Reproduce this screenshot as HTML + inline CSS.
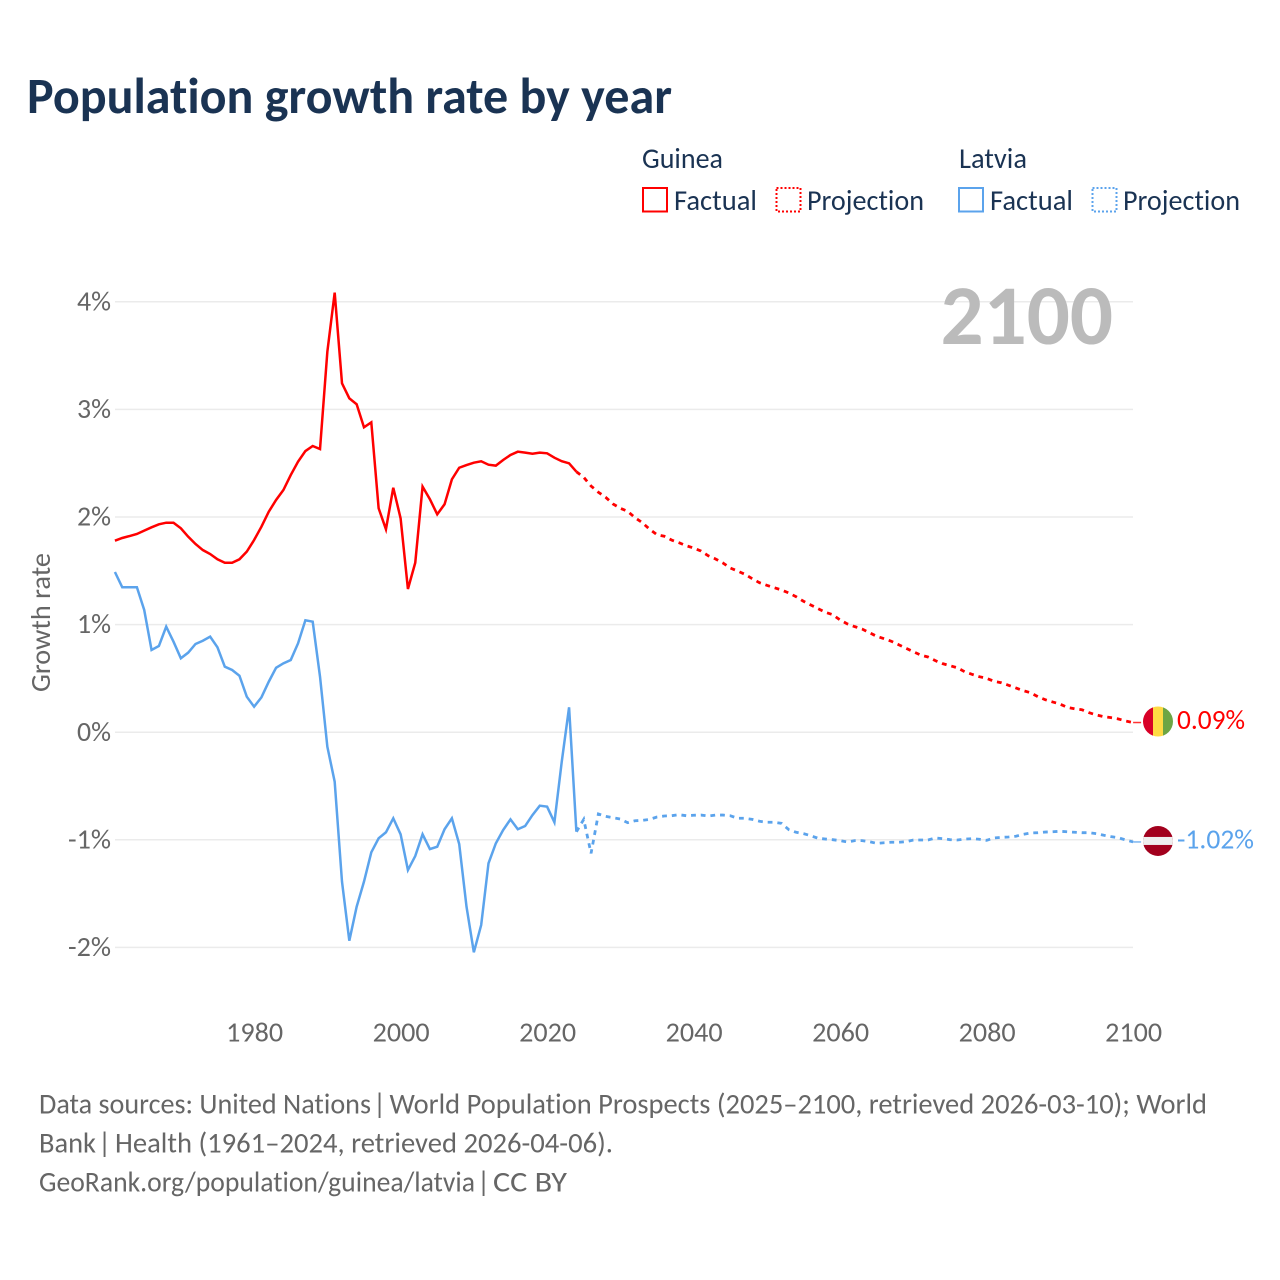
<!DOCTYPE html>
<html lang="en">
<head>
<meta charset="utf-8">
<title>Population growth rate by year</title>
<style>
html,body{margin:0;padding:0;background:#fff;}
svg{display:block;font-family:"Carlito","Lato","Liberation Sans",sans-serif;font-variant-ligatures:none;}
</style>
</head>
<body>
<svg id="chart" xmlns="http://www.w3.org/2000/svg" width="1280" height="1280" viewBox="0 0 1280 1280">
  <defs>
    <clipPath id="clip-guinea"><circle id="clip-guinea-c" cx="1158" cy="721" r="15"/></clipPath>
    <clipPath id="clip-latvia"><circle id="clip-latvia-c" cx="1158" cy="841" r="15"/></clipPath>
  </defs>
  <text x="27" y="113" font-size="51" font-weight="700" fill="#1a3353" textLength="645" lengthAdjust="spacingAndGlyphs">Population growth rate by year</text>

  <g font-size="28.5" fill="#1a3353">
    <text x="642" y="168" textLength="81" lengthAdjust="spacingAndGlyphs">Guinea</text>
    <rect x="643" y="188" width="24" height="23.5" fill="none" stroke="#ff0000" stroke-width="2"/>
    <text x="674" y="210" textLength="83" lengthAdjust="spacingAndGlyphs">Factual</text>
    <rect x="776.5" y="188" width="24" height="23.5" fill="none" stroke="#ff0000" stroke-width="2" stroke-dasharray="2 2"/>
    <text x="807" y="210" textLength="117" lengthAdjust="spacingAndGlyphs">Projection</text>
    <text x="959" y="168" textLength="68" lengthAdjust="spacingAndGlyphs">Latvia</text>
    <rect x="959" y="188" width="24" height="23.5" fill="none" stroke="#5ba3ec" stroke-width="2"/>
    <text x="990" y="210" textLength="83" lengthAdjust="spacingAndGlyphs">Factual</text>
    <rect x="1092.5" y="188" width="24" height="23.5" fill="none" stroke="#5ba3ec" stroke-width="2" stroke-dasharray="2 2"/>
    <text x="1123" y="210" textLength="117" lengthAdjust="spacingAndGlyphs">Projection</text>
  </g>

  <g id="grid"></g>
  <g id="y-ticks"></g>
  <g id="x-ticks"></g>

  <text transform="translate(50,622.5) rotate(-90)" text-anchor="middle" font-size="27.5" fill="#666666" textLength="139" lengthAdjust="spacingAndGlyphs">Growth rate</text>

  <text x="940.5" y="344" font-size="85" font-weight="700" fill="#bbbbbb" textLength="172.5" lengthAdjust="spacingAndGlyphs">2100</text>

  <g id="series"></g>

  <g id="flag-guinea" clip-path="url(#clip-guinea)">
    <rect class="f" x="1143" width="10" height="32" fill="#d80027"/>
    <rect class="f" x="1153" width="10" height="32" fill="#ffda44"/>
    <rect class="f" x="1163" width="10" height="32" fill="#6da544"/>
  </g>
  <g id="flag-latvia" clip-path="url(#clip-latvia)">
    <rect class="f" x="1143" width="30" height="32" fill="#a2001d"/>
    <rect id="latvia-band" x="1143" width="30" height="8" fill="#eeeeee"/>
  </g>
  <text id="value-guinea" x="1177" font-size="27.5" fill="#ff0000" textLength="68" lengthAdjust="spacingAndGlyphs"></text>
  <text id="value-latvia" x="1177" font-size="27.5" fill="#5ba3ec" textLength="77" lengthAdjust="spacingAndGlyphs"></text>

  <g font-size="28.5" fill="#666666">
    <text x="39" y="1113.5" textLength="332" lengthAdjust="spacingAndGlyphs">Data sources: United Nations</text>
    <text x="373" y="1113.5">|</text>
    <text x="389.5" y="1113.5" textLength="817.5" lengthAdjust="spacingAndGlyphs">World Population Prospects (2025–2100, retrieved 2026-03-10); World</text>
    <text x="39" y="1152.5" textLength="57" lengthAdjust="spacingAndGlyphs">Bank</text>
    <text x="98" y="1152.5">|</text>
    <text x="115" y="1152.5" textLength="498" lengthAdjust="spacingAndGlyphs">Health (1961–2024, retrieved 2026-04-06).</text>
    <text x="39" y="1191.5" textLength="436" lengthAdjust="spacingAndGlyphs">GeoRank.org/population/guinea/latvia</text>
    <text x="477" y="1191.5">|</text>
    <text x="493" y="1191.5" textLength="74" lengthAdjust="spacingAndGlyphs">CC BY</text>
  </g>
</svg>
<script>
const factualStartYear = 1961;
const projectionStartYear = 2024;
const yTickValues = [4, 3, 2, 1, 0, -1, -2];
const yTickLabels = ["4%", "3%", "2%", "1%", "0%", "-1%", "-2%"];
const xTickYears = [1980, 2000, 2020, 2040, 2060, 2080, 2100];
const xTickLabels = ["1980", "2000", "2020", "2040", "2060", "2080", "2100"];
const endLabels = ["0.09%", "-1.02%"];

const guineaFactual = [1.780,1.805,1.823,1.842,1.873,1.904,1.932,1.947,1.947,1.895,1.817,1.749,1.693,1.656,1.607,1.575,1.575,1.607,1.678,1.786,1.910,2.049,2.158,2.251,2.390,2.514,2.613,2.660,2.632,3.536,4.085,3.243,3.103,3.048,2.834,2.880,2.081,1.886,2.272,1.988,1.331,1.575,2.282,2.165,2.025,2.118,2.350,2.458,2.483,2.505,2.518,2.486,2.477,2.530,2.576,2.607,2.598,2.588,2.598,2.592,2.551,2.518,2.499,2.421];
const guineaProjection = [2.421,2.369,2.288,2.230,2.183,2.121,2.081,2.053,1.994,1.947,1.886,1.836,1.821,1.786,1.761,1.733,1.712,1.684,1.640,1.610,1.573,1.526,1.498,1.468,1.427,1.389,1.365,1.343,1.322,1.294,1.259,1.217,1.182,1.148,1.114,1.092,1.043,1.006,0.981,0.959,0.925,0.891,0.869,0.845,0.813,0.780,0.748,0.717,0.699,0.665,0.637,0.618,0.599,0.562,0.538,0.516,0.501,0.473,0.460,0.436,0.411,0.386,0.367,0.330,0.302,0.281,0.262,0.231,0.218,0.209,0.181,0.160,0.144,0.135,0.123,0.104,0.09];
const latviaFactual = [1.489,1.347,1.347,1.347,1.136,0.764,0.801,0.981,0.841,0.687,0.739,0.820,0.850,0.888,0.789,0.609,0.578,0.525,0.330,0.237,0.324,0.469,0.599,0.640,0.671,0.826,1.040,1.027,0.516,-0.135,-0.460,-1.389,-1.938,-1.622,-1.389,-1.116,-0.986,-0.930,-0.800,-0.949,-1.281,-1.151,-0.949,-1.086,-1.064,-0.902,-0.800,-1.039,-1.622,-2.046,-1.792,-1.218,-1.033,-0.909,-0.810,-0.902,-0.872,-0.770,-0.683,-0.692,-0.837,-0.274,0.231,-0.925];
const latviaProjection = [-0.925,-0.810,-1.126,-0.760,-0.782,-0.795,-0.807,-0.841,-0.823,-0.819,-0.810,-0.788,-0.779,-0.776,-0.767,-0.776,-0.772,-0.770,-0.779,-0.770,-0.770,-0.776,-0.800,-0.800,-0.810,-0.828,-0.837,-0.837,-0.847,-0.906,-0.930,-0.943,-0.962,-0.986,-0.993,-0.999,-1.008,-1.020,-1.008,-1.008,-1.018,-1.033,-1.027,-1.023,-1.023,-1.018,-1.002,-1.002,-1.002,-0.983,-0.990,-0.999,-1.002,-0.993,-0.990,-0.995,-1.005,-0.983,-0.977,-0.974,-0.967,-0.949,-0.937,-0.934,-0.928,-0.925,-0.921,-0.925,-0.930,-0.934,-0.934,-0.943,-0.958,-0.971,-0.981,-1.002,-1.02];

const NS = "http://www.w3.org/2000/svg";
const RED = "#ff0000";
const BLUE = "#5ba3ec";

function xScale(year) { return 254.1 + (year - 1980) * 7.325; }
function yScale(value) { return 732.2 - value * 107.6; }

function pointsFor(values, startYear) {
  return values.map(function (v, i) {
    return xScale(startYear + i).toFixed(2) + "," + yScale(v).toFixed(2);
  }).join(" ");
}

const grid = document.getElementById("grid");
const yTicks = document.getElementById("y-ticks");
yTickValues.forEach(function (v, i) {
  const gl = document.createElementNS(NS, "line");
  
  
  gl.setAttribute("x1", 115);
  gl.setAttribute("x2", 1133);
  gl.setAttribute("y1", yScale(v));
  gl.setAttribute("y2", yScale(v));
  gl.setAttribute("stroke", "#ebebeb");
  gl.setAttribute("stroke-width", "1.5");
  grid.appendChild(gl);

  const t = document.createElementNS(NS, "text");
  
  
  t.setAttribute("x", yTickLabels[i].length > 2 ? 68 : 77);
  t.setAttribute("y", yScale(v) + 8.6);
  t.setAttribute("font-size", "27.5");
  t.setAttribute("fill", "#666666");
  t.setAttribute("textLength", yTickLabels[i].length > 2 ? 43 : 34);
  t.setAttribute("lengthAdjust", "spacingAndGlyphs");
  t.textContent = yTickLabels[i];
  yTicks.appendChild(t);
});

const xTicks = document.getElementById("x-ticks");
xTickYears.forEach(function (yr, i) {
  const t = document.createElementNS(NS, "text");
  
  
  t.setAttribute("x", xScale(yr) - 28);
  t.setAttribute("y", 1041.7);
  t.setAttribute("font-size", "27.5");
  t.setAttribute("fill", "#666666");
  t.setAttribute("textLength", 57);
  t.setAttribute("lengthAdjust", "spacingAndGlyphs");
  t.textContent = xTickLabels[i];
  xTicks.appendChild(t);
});

const series = document.getElementById("series");

const guineaFactualLine = document.createElementNS(NS, "polyline");


guineaFactualLine.setAttribute("points", pointsFor(guineaFactual, factualStartYear));
guineaFactualLine.setAttribute("fill", "none");
guineaFactualLine.setAttribute("stroke", RED);
guineaFactualLine.setAttribute("stroke-width", "2.5");
series.appendChild(guineaFactualLine);

const guineaProjectionLine = document.createElementNS(NS, "polyline");


guineaProjectionLine.setAttribute("points", pointsFor(guineaProjection, projectionStartYear));
guineaProjectionLine.setAttribute("fill", "none");
guineaProjectionLine.setAttribute("stroke", RED);
guineaProjectionLine.setAttribute("stroke-width", "2.8");
guineaProjectionLine.setAttribute("stroke-dasharray", "4.8 4.9");
series.appendChild(guineaProjectionLine);

const latviaFactualLine = document.createElementNS(NS, "polyline");


latviaFactualLine.setAttribute("points", pointsFor(latviaFactual, factualStartYear));
latviaFactualLine.setAttribute("fill", "none");
latviaFactualLine.setAttribute("stroke", BLUE);
latviaFactualLine.setAttribute("stroke-width", "2.5");
series.appendChild(latviaFactualLine);

const latviaProjectionLine = document.createElementNS(NS, "polyline");


latviaProjectionLine.setAttribute("points", pointsFor(latviaProjection, projectionStartYear));
latviaProjectionLine.setAttribute("fill", "none");
latviaProjectionLine.setAttribute("stroke", BLUE);
latviaProjectionLine.setAttribute("stroke-width", "2.8");
latviaProjectionLine.setAttribute("stroke-dasharray", "4.8 4.9");
series.appendChild(latviaProjectionLine);

function placeEnd(values, flagId, clipId, valueId, label, color) {
  const last = values[values.length - 1];
  const y = yScale(last);
  const cy = y - 1;
  const stub = document.createElementNS(NS, "line");
  
  
  stub.setAttribute("x1", xScale(2100));
  stub.setAttribute("x2", xScale(2100) + 8);
  stub.setAttribute("y1", y);
  stub.setAttribute("y2", y);
  stub.setAttribute("stroke", color);
  stub.setAttribute("stroke-width", "1.5");
  stub.setAttribute("stroke-opacity", "0.8");
  series.appendChild(stub);
  document.getElementById(clipId).setAttribute("cy", cy);
  document.querySelectorAll("#" + flagId + " .f").forEach(function (r) {
    r.setAttribute("y", cy - 16);
  });
  const v = document.getElementById(valueId);
  v.setAttribute("y", y + 6.6);
  v.textContent = label;
  return cy;
}

placeEnd(guineaProjection, "flag-guinea", "clip-guinea-c", "value-guinea", endLabels[0], RED);
const latviaCy = placeEnd(latviaProjection, "flag-latvia", "clip-latvia-c", "value-latvia", endLabels[1], BLUE);
document.getElementById("latvia-band").setAttribute("y", latviaCy - 4);
</script>
</body>
</html>
